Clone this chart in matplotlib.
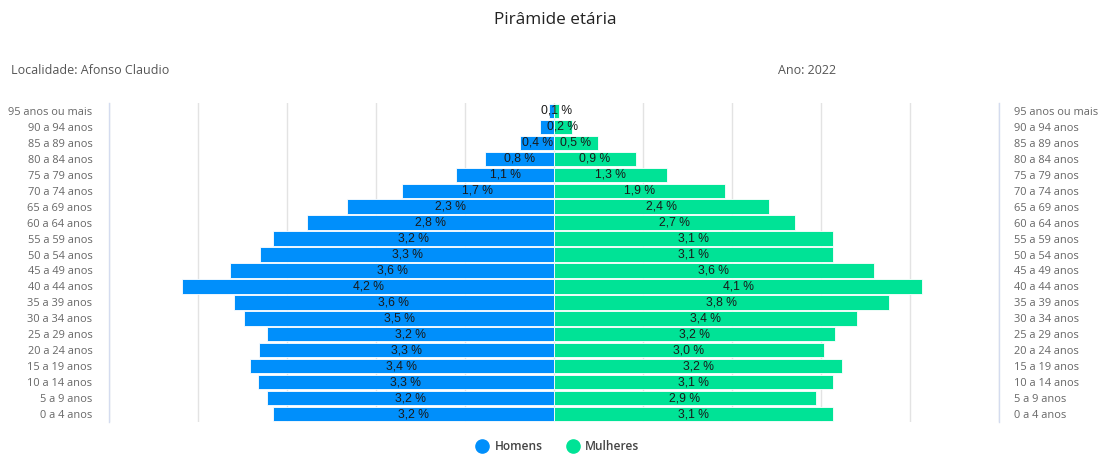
import matplotlib
matplotlib.use("Agg")
import matplotlib.pyplot as plt
from matplotlib.lines import Line2D

age_groups = ["0 a 4 anos", "5 a 9 anos", "10 a 14 anos", "15 a 19 anos", "20 a 24 anos",
              "25 a 29 anos", "30 a 34 anos", "35 a 39 anos", "40 a 44 anos", "45 a 49 anos",
              "50 a 54 anos", "55 a 59 anos", "60 a 64 anos", "65 a 69 anos", "70 a 74 anos",
              "75 a 79 anos", "80 a 84 anos", "85 a 89 anos", "90 a 94 anos", "95 anos ou mais"]
homens = [3.16, 3.22, 3.33, 3.42, 3.31, 3.23, 3.48, 3.60, 4.18, 3.64,
          3.30, 3.16, 2.77, 2.33, 1.71, 1.10, 0.78, 0.38, 0.16, 0.06]
mulheres = [3.14, 2.94, 3.14, 3.24, 3.03, 3.16, 3.40, 3.76, 4.14, 3.59,
            3.14, 3.13, 2.71, 2.42, 1.92, 1.27, 0.92, 0.49, 0.20, 0.06]

BLUE = "#008FFB"
GREEN = "#00E396"

fig = plt.figure(figsize=(11.05, 4.54), dpi=100)
ax = fig.add_axes([109 / 1105, 1 - 422 / 454, 890 / 1105, 319 / 454])

y = list(range(len(age_groups)))
ax.barh(y, [-v for v in homens], height=0.9, color=BLUE, edgecolor="white", linewidth=0.6, zorder=3)
ax.barh(y, mulheres, height=0.9, color=GREEN, edgecolor="white", linewidth=0.6, zorder=3)

def fmt(v):
    return f"{round(v, 1):.1f}".replace(".", ",") + " %"

for i, (h, m) in enumerate(zip(homens, mulheres)):
    txt_kw = dict(ha="center", va="center", fontsize=8.7, family="Liberation Sans",
                  color="#1a1a1a", zorder=4)
    if h + m > 0.6:
        ax.text(-h / 2, i, fmt(h), **txt_kw)
    ax.text(m / 2, i, fmt(m), **txt_kw)

ax.set_xlim(-5, 5)
ax.set_ylim(-0.5, len(age_groups) - 0.5)
ax.set_xticks([-5, -4, -3, -2, -1, 0, 1, 2, 3, 4, 5])
ax.xaxis.grid(True, color="#e3e3e3", linewidth=1, zorder=0)
ax.tick_params(axis="x", length=0, labelbottom=False)
ax.set_yticks(y)
ax.set_yticklabels(age_groups, fontsize=7.9, family="Open Sans", color="#666666")
ax.tick_params(axis="y", length=0, pad=12)
for s in ["top", "bottom"]:
    ax.spines[s].set_visible(False)
for s in ["left", "right"]:
    ax.spines[s].set_color("#d4dcef")
    ax.spines[s].set_linewidth(1)

ax2 = ax.twinx()
ax2.set_ylim(ax.get_ylim())
ax2.set_yticks(y)
ax2.set_yticklabels(age_groups, fontsize=7.9, family="Open Sans", color="#666666")
ax2.tick_params(axis="y", length=0, pad=11)
for s in ax2.spines.values():
    s.set_visible(False)

fig.text(555 / 1105, 1 - 20 / 454, "Pirâmide etária", ha="center", va="center",
         fontsize=12.3, family="Open Sans", color="#222222")
fig.text(11 / 1105, 1 - 71 / 454, "Localidade: Afonso Claudio", ha="left", va="center",
         fontsize=9, family="Open Sans", color="#555555")
fig.text(778 / 1105, 1 - 71 / 454, "Ano: 2022", ha="left", va="center",
         fontsize=9, family="Open Sans", color="#555555")

handles = [Line2D([], [], marker="o", linestyle="", markersize=9.5, color=BLUE),
           Line2D([], [], marker="o", linestyle="", markersize=9.5, color=GREEN)]
fig.legend(handles, ["Homens", "Mulheres"], loc="center", bbox_to_anchor=(555 / 1105, 1 - 447 / 454),
           ncol=2, frameon=False, handletextpad=0.05, columnspacing=1.5,
           prop={"family": "Open Sans", "size": 8.6, "weight": "semibold"},
           labelcolor="#444444")

fig.text(895 / 1105, 1 - 460 / 454, "Fonte: IBGE - Diretoria de Pesquisas", ha="left", va="center",
         fontsize=8, family="Open Sans", color="#bbbbbb")

fig.savefig("out.png", dpi=100)
